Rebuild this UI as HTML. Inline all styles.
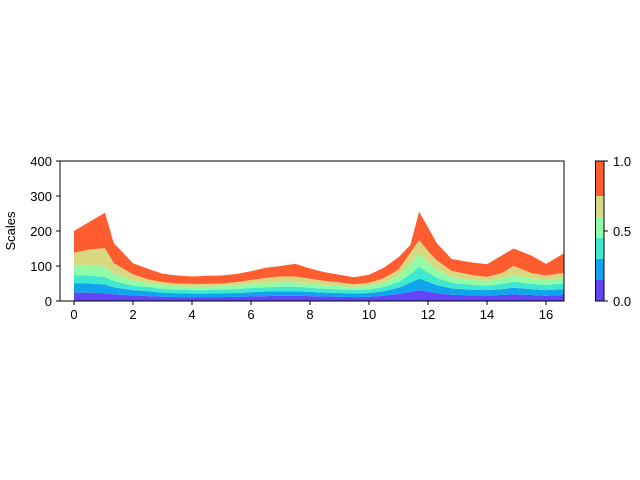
<!DOCTYPE html>
<html><head><meta charset="utf-8"><style>
body{margin:0;background:#fff;}
svg{display:block;font-family:"Liberation Sans","DejaVu Sans",sans-serif;}
</style></head><body>
<svg id="chart" width="640" height="480" viewBox="0 0 640 480" xmlns="http://www.w3.org/2000/svg">
<rect width="640" height="480" fill="#fff"/>
<g id="areas"></g>
<rect x="60" y="161" width="504" height="140" fill="none" stroke="#000" stroke-width="1"/>
<g id="xticks"></g>
<g id="yticks"></g>
<text x="15" y="231" transform="rotate(-90 15 231)" text-anchor="middle" font-size="13">Scales</text>
<g id="cbar"></g>
</svg>
<script>
const xs=[0,0.5,1.05,1.35,2,2.5,3,3.5,4,4.5,5,5.5,6,6.5,7,7.5,8,8.5,9,9.5,10,10.5,11,11.4,11.7,12,12.3,12.8,13.5,14,14.5,14.9,15.5,16,16.6];
const s1=[24,24,22,19,16,14,12,11,11,11,11,12,13,14,15,15,14,13,12,11,12,15,20,26,31,27,22,18,16,16,17,19,17,15,17];
const s2=[26,26,25,20,15,14,12,11,10,10,11,11,12,13,13,13,12,11,11,10,11,13,18,26,33,28,23,18,16,15,17,19,17,16,17];
const s3=[24,23,22,18,13,12,11,10,10,10,10,11,12,12,13,13,12,11,10,10,10,12,16,24,34,26,21,16,14,13,15,17,15,15,16];
const s4=[29,29,29,21,14,12,11,10,10,10,10,11,12,13,13,13,12,11,10,9,10,13,18,30,38,30,24,17,14,13,16,19,16,14,16];
const s5=[35,45,53,30,18,10,8,8,8,8,8,9,11,14,16,16,14,11,10,8,9,12,18,32,38,32,26,17,14,12,15,26,15,13,14];
const s6=[62,78,101,57,32,30,24,23,21,23,23,23,25,29,30,36,29,25,22,20,23,30,35,22,81,67,49,34,36,36,50,50,50,33,56];
const colors=["#6245f6","#10a4ec","#40e8d0","#90fca8","#d8d880","#ff5c30"];
const cbBounds=[0,0.15,0.3,0.45,0.6,0.75,1.0];
const xTicks=[0,2,4,6,8,10,12,14,16];
const yTicks=[0,100,200,300,400];
const cbTicks=[0.0,0.5,1.0];
const NS="http://www.w3.org/2000/svg";
const X=v=>74+v*29.5, Y=v=>301-v*0.35;
const series=[s1,s2,s3,s4,s5,s6];
const g=document.getElementById('areas');
let base=xs.map(()=>0);
series.forEach((s,k)=>{
  const top=base.map((b,i)=>b+s[i]);
  let d="M"+xs.map((x,i)=>X(x)+","+Y(top[i])).join("L");
  for(let i=xs.length-1;i>=0;i--) d+="L"+X(xs[i])+","+Y(base[i]);
  const p=document.createElementNS(NS,'path');
  p.setAttribute('d',d+"Z");p.setAttribute('fill',colors[k]);
  
  
  g.appendChild(p);base=top;
});
const xt=document.getElementById('xticks');
xTicks.forEach(t=>{
  const l=document.createElementNS(NS,'line');
  l.setAttribute('x1',X(t));l.setAttribute('x2',X(t));l.setAttribute('y1',301);l.setAttribute('y2',305);l.setAttribute('stroke','#000');
  
  
  xt.appendChild(l);
  const tx=document.createElementNS(NS,'text');
  tx.setAttribute('x',X(t));tx.setAttribute('y',319);tx.setAttribute('text-anchor','middle');tx.setAttribute('font-size','13');tx.textContent=t;
  
  
  xt.appendChild(tx);
});
const yt=document.getElementById('yticks');
yTicks.forEach(t=>{
  const l=document.createElementNS(NS,'line');
  l.setAttribute('x1',56);l.setAttribute('x2',60);l.setAttribute('y1',Y(t));l.setAttribute('y2',Y(t));l.setAttribute('stroke','#000');
  
  
  yt.appendChild(l);
  const tx=document.createElementNS(NS,'text');
  tx.setAttribute('x',52);tx.setAttribute('y',Y(t)+5);tx.setAttribute('text-anchor','end');tx.setAttribute('font-size','13');tx.textContent=t;
  
  
  yt.appendChild(tx);
});
const cb=document.getElementById('cbar');
const CY=v=>301-v*140;
colors.forEach((c,k)=>{
  const r=document.createElementNS(NS,'rect');
  const y0=cbBounds[k],y1=cbBounds[k+1];
  r.setAttribute('x',595.5);r.setAttribute('width',8.5);r.setAttribute('y',CY(y1));r.setAttribute('height',CY(y0)-CY(y1));r.setAttribute('fill',c);
  
  
  cb.appendChild(r);
});
const fr=document.createElementNS(NS,'rect');
fr.setAttribute('x',595.5);fr.setAttribute('y',161);fr.setAttribute('width',8.5);fr.setAttribute('height',140);fr.setAttribute('fill','none');fr.setAttribute('stroke','#000');


cb.appendChild(fr);
cbTicks.forEach(t=>{
  const l=document.createElementNS(NS,'line');
  l.setAttribute('x1',604);l.setAttribute('x2',608);l.setAttribute('y1',CY(t));l.setAttribute('y2',CY(t));l.setAttribute('stroke','#000');
  
  
  cb.appendChild(l);
  const tx=document.createElementNS(NS,'text');
  tx.setAttribute('x',613);tx.setAttribute('y',CY(t)+5);tx.setAttribute('font-size','13');tx.textContent=t.toFixed(1);
  
  
  cb.appendChild(tx);
});
</script>
</body></html>
